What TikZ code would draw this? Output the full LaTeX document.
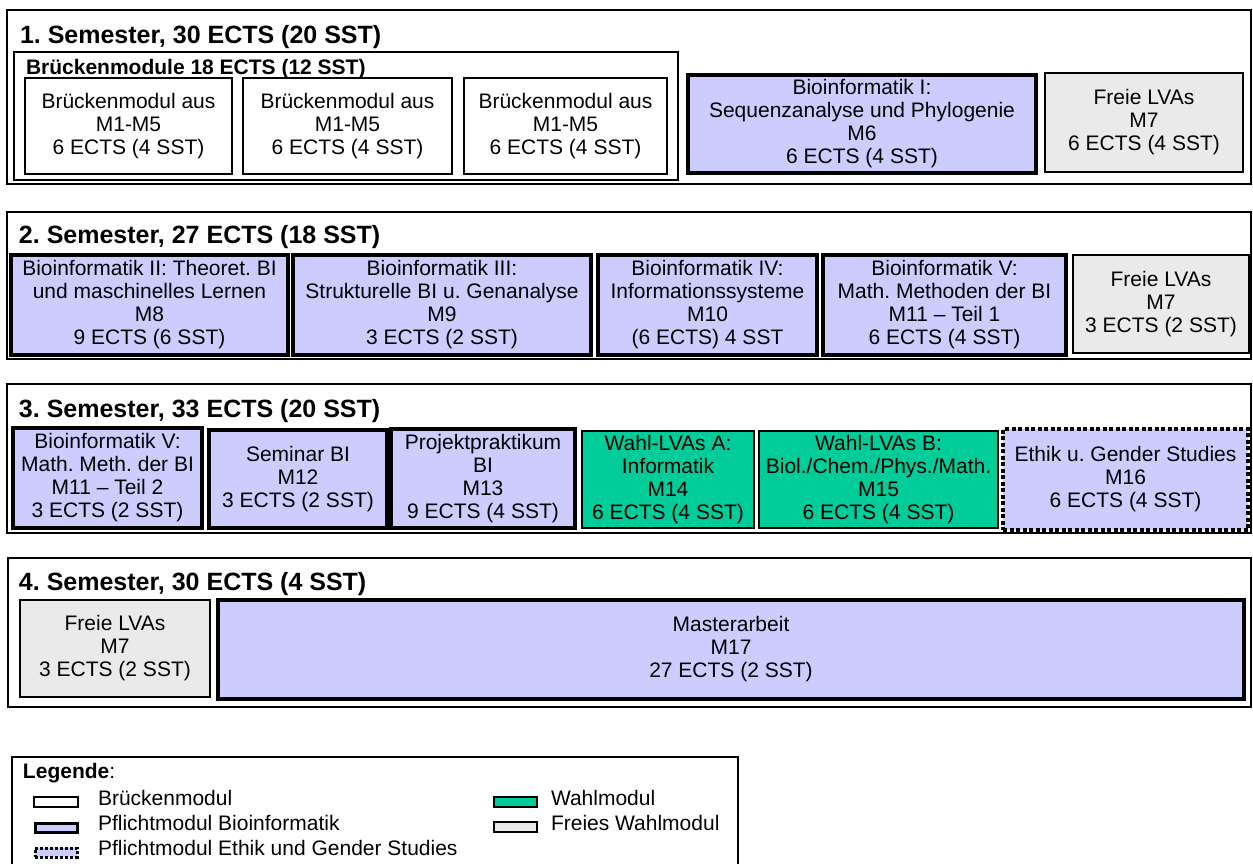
\documentclass[tikz,border=0pt]{standalone}
\usepackage{fontspec}
\setmainfont{Liberation Sans}
\frenchspacing
\definecolor{bi}{HTML}{CCCCFF}
\definecolor{wahl}{HTML}{00CC99}
\definecolor{frei}{HTML}{EAEAEA}
\newcommand{\modbox}[7]{\node[#1, minimum width={#5-#3}, minimum height={#6-#4}] (#2) at ({(#3+#5)/2},{(#4+#6)/2}) {#7};}
\begin{document}
\begin{tikzpicture}[x=1pt,y=-1pt,
  every node/.style={inner sep=0pt, outer sep=0pt, align=center, font=\frenchspacing\fontsize{21}{23}\selectfont},
  sem/.style={draw=black, line width=1.8pt, fill=white},
  semtitle/.style={anchor=base west, font=\frenchspacing\bfseries\fontsize{25}{28}\selectfont},
  grp/.style={draw=black, line width=1.5pt},
  grptitle/.style={anchor=base west, font=\bfseries\fontsize{21}{23}\selectfont},
  bruecke/.style={draw=black, line width=1.3pt, fill=white},
  pflicht/.style={draw=black, line width=3.8pt, fill=bi},
  wahlbox/.style={draw=black, line width=1.3pt, fill=wahl},
  freibox/.style={draw=black, line width=1.3pt, fill=frei},
  ethik/.style={draw=black, line width=3.8pt, dash pattern=on 4pt off 2.5pt, fill=bi},
  legethik/.style={draw=black, line width=3pt, dash pattern=on 3pt off 2pt, fill=bi},
  legpflicht/.style={draw=black, line width=3pt, fill=bi},
  legtext/.style={anchor=base west},
]
\useasboundingbox (0,0) rectangle (1253,863);
\clip (0,0) rectangle (1253,863);

% ---------- Semester 1 ----------
\modbox{sem}{s1}{7}{10}{1251}{184}{}
\node[semtitle] (t1) at (20,43) {1. Semester, 30 ECTS (20 SST)};
\modbox{grp}{g1}{14}{52}{678}{180}{}
\node[grptitle] (gt1) at (26,74) {Brückenmodule 18 ECTS (12 SST)};
\modbox{bruecke}{b1}{25}{78}{232}{174}{Brückenmodul aus\\M1-M5\\6 ECTS (4 SST)}
\modbox{bruecke}{b2}{243}{78}{452}{174}{Brückenmodul aus\\M1-M5\\6 ECTS (4 SST)}
\modbox{bruecke}{b3}{464}{78}{667}{174}{Brückenmodul aus\\M1-M5\\6 ECTS (4 SST)}
\modbox{pflicht}{m6}{688}{75}{1036}{173}{Bioinformatik I:\\Sequenzanalyse und Phylogenie\\M6\\6 ECTS (4 SST)}
\modbox{freibox}{f1}{1045}{73}{1243}{172}{Freie LVAs\\M7\\6 ECTS (4 SST)}

% ---------- Semester 2 ----------
\modbox{sem}{s2}{7}{212}{1251}{359}{}
\node[semtitle] (t2) at (19,243) {2. Semester, 27 ECTS (18 SST)};
\modbox{pflicht}{m8}{11}{255}{288}{355}{Bioinformatik II: Theoret. BI\\und maschinelles Lernen\\M8\\9 ECTS (6 SST)}
\modbox{pflicht}{m9}{293}{255}{591}{355}{Bioinformatik III:\\Strukturelle BI u. Genanalyse\\M9\\3 ECTS (2 SST)}
\modbox{pflicht}{m10}{598}{255}{817}{355}{Bioinformatik IV:\\Informationssysteme\\M10\\(6 ECTS) 4 SST}
\modbox{pflicht}{m11a}{823}{255}{1066}{355}{Bioinformatik V:\\Math. Methoden der BI\\M11 \textendash{} Teil 1\\6 ECTS (4 SST)}
\modbox{freibox}{f2}{1073}{255}{1249}{353}{Freie LVAs\\M7\\3 ECTS (2 SST)}

% ---------- Semester 3 ----------
\modbox{sem}{s3}{7}{384}{1251}{533}{}
\node[semtitle] (t3) at (19,417) {3. Semester, 33 ECTS (20 SST)};
\modbox{pflicht}{m11b}{13}{428}{202}{528}{Bioinformatik V:\\Math. Meth. der BI\\M11 \textendash{} Teil 2\\3 ECTS (2 SST)}
\modbox{pflicht}{m12}{209}{430}{387}{528}{Seminar BI\\M12\\3 ECTS (2 SST)}
\modbox{pflicht}{m13}{391}{429}{575}{528}{Projektpraktikum\\BI\\M13\\9 ECTS (4 SST)}
\modbox{wahlbox}{m14}{582}{431}{754}{528}{Wahl-LVAs A:\\Informatik\\M14\\6 ECTS (4 SST)}
\modbox{wahlbox}{m15}{759}{431}{998}{528}{Wahl-LVAs B:\\Biol./Chem./Phys./Math.\\M15\\6 ECTS (4 SST)}
\modbox{ethik}{m16}{1003}{429}{1248}{530}{Ethik u. Gender Studies\\M16\\6 ECTS (4 SST)}

% ---------- Semester 4 ----------
\modbox{sem}{s4}{8}{558}{1251}{707}{}
\node[semtitle] (t4) at (19,590) {4. Semester, 30 ECTS (4 SST)};
\modbox{freibox}{f4}{20}{600}{210}{697}{Freie LVAs\\M7\\3 ECTS (2 SST)}
\modbox{pflicht}{m17}{218}{600}{1244}{699}{Masterarbeit\\M17\\27 ECTS (2 SST)}

% ---------- Legende ----------
\coordinate (lgA) at (12,880);
\coordinate (lgB) at (12,757);
\coordinate (lgC) at (738,757);
\coordinate (lgD) at (738,880);
\draw[line width=1.8pt] (lgA) -- (lgB) -- (lgC) -- (lgD);
\node[legtext] (leg) at (23,778) {\textbf{Legende}:};
\modbox{bruecke}{lb1}{34}{797}{78}{807}{}
\node[legtext] (lt1) at (98,805) {Brückenmodul};
\modbox{legpflicht}{lb2}{35}{823}{77}{832}{}
\node[legtext] (lt2) at (98,830) {Pflichtmodul Bioinformatik};
\modbox{legethik}{lb3}{35}{848}{77}{857}{}
\node[legtext] (lt3) at (98,855) {Pflichtmodul Ethik und Gender Studies};
\modbox{wahlbox}{lb4}{494}{797}{537}{807}{}
\node[legtext] (lt4) at (551,805) {Wahlmodul};
\modbox{freibox}{lb5}{494}{822}{537}{832}{}
\node[legtext] (lt5) at (551,830) {Freies Wahlmodul};
\end{tikzpicture}
\end{document}
